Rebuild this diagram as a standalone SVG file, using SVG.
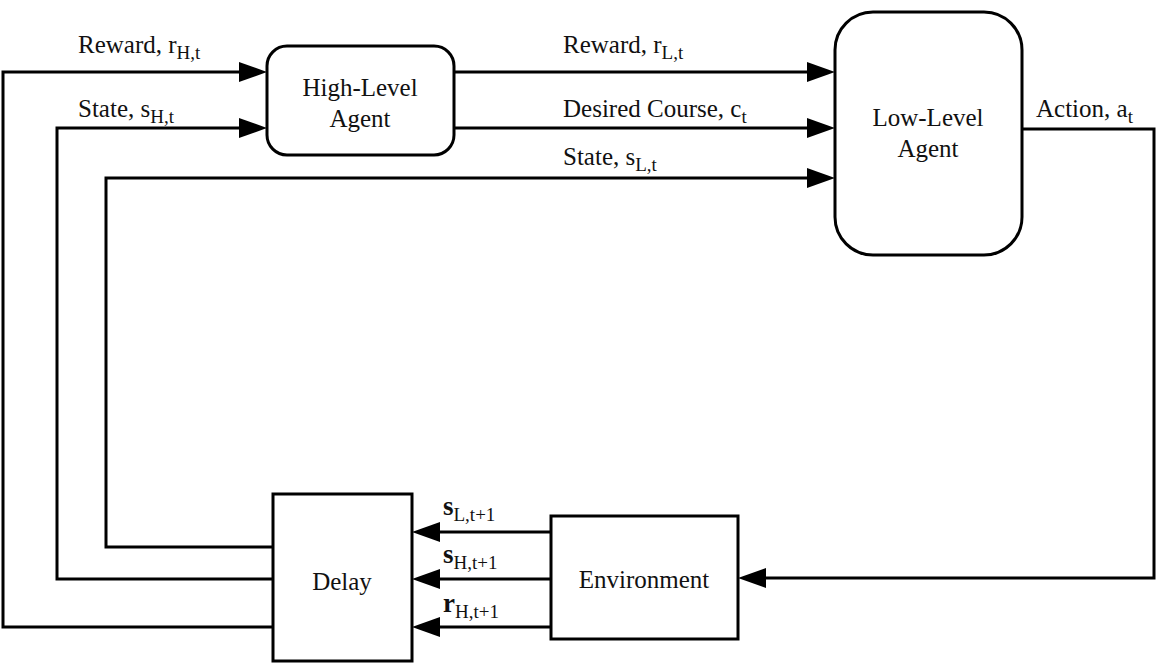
<svg xmlns="http://www.w3.org/2000/svg" width="1156" height="665" viewBox="0 0 1156 665">
<defs>
<marker id="ah" viewBox="0 0 28 20" refX="20" refY="10" markerWidth="28" markerHeight="20" markerUnits="userSpaceOnUse" orient="auto">
<path d="M0,0 L28,10 L0,20 z" fill="#000"/>
</marker>
</defs>
<style>
.box{fill:#fff;stroke:#000;stroke-width:3}
.c{fill:none;stroke:#000;stroke-width:3;marker-end:url(#ah)}
.t{font-family:"Liberation Serif","Times New Roman",serif;font-size:25px;fill:#111}
.m{text-anchor:middle}
.s{font-size:19px}
.b{font-weight:bold;font-size:27px}
</style>
<rect width="1156" height="665" fill="#fff"/>
<g id="connectors">
<path class="c" d="M273,627 H3 V72 H259"/>
<path class="c" d="M273,579 H57 V128 H259"/>
<path class="c" d="M273,547 H106 V178 H827"/>
<path class="c" d="M454,72 H827"/>
<path class="c" d="M454,128 H827"/>
<path class="c" d="M1022,129 H1154 V578 H746"/>
<path class="c" d="M551,532 H420"/>
<path class="c" d="M551,579 H420"/>
<path class="c" d="M551,627 H420"/>
</g>
<g id="labels">
<text class="t" x="78" y="53">Reward, r<tspan class="s" dy="6">H,t</tspan></text>
<text class="t" x="78" y="117">State, s<tspan class="s" dy="6">H,t</tspan></text>
<text class="t" x="563" y="53">Reward, r<tspan class="s" dy="6">L,t</tspan></text>
<text class="t" x="563" y="117">Desired Course, c<tspan class="s" dy="6">t</tspan></text>
<text class="t" x="563" y="165">State, s<tspan class="s" dy="6">L,t</tspan></text>
<text class="t" x="1036" y="117">Action, a<tspan class="s" dy="6">t</tspan></text>
<text class="t" x="443" y="515"><tspan class="b">s</tspan><tspan class="s" dy="6">L,t+1</tspan></text>
<text class="t" x="443" y="563"><tspan class="b">s</tspan><tspan class="s" dy="6">H,t+1</tspan></text>
<text class="t" x="443" y="612"><tspan class="b">r</tspan><tspan class="s" dy="6">H,t+1</tspan></text>
</g>
<g id="high-level-agent">
<rect class="box" x="267" y="46" width="187" height="109" rx="20"/>
<text class="t m" x="360" y="96">High-Level</text>
<text class="t m" x="360" y="127">Agent</text>
</g>
<g id="low-level-agent">
<rect class="box" x="835" y="12" width="187" height="243" rx="38"/>
<text class="t m" x="928" y="126">Low-Level</text>
<text class="t m" x="928" y="157">Agent</text>
</g>
<g id="delay">
<rect class="box" x="273" y="494" width="139" height="167"/>
<text class="t m" x="342" y="590">Delay</text>
</g>
<g id="environment">
<rect class="box" x="551" y="516" width="187" height="123"/>
<text class="t m" x="644" y="588">Environment</text>
</g>
</svg>
